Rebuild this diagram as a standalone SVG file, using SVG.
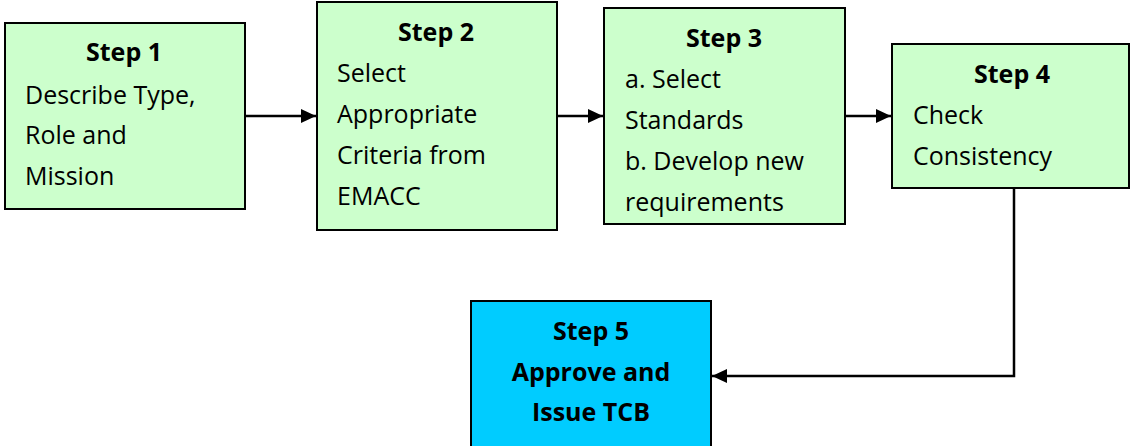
<svg xmlns="http://www.w3.org/2000/svg" width="1133" height="446" viewBox="0 0 1133 446">
<defs>
<style>
.g{fill:#CCFFCC;stroke:#000;stroke-width:2}
.b{fill:#00CCFF;stroke:#000;stroke-width:2}
text{font-family:"Open Sans","Noto Sans",sans-serif;font-size:25px;fill:#000}
.h{font-weight:bold;text-anchor:middle}
.c{stroke:#000;stroke-width:2.5;fill:none}
</style>
<marker id="ar" viewBox="0 0 15 14" refX="15" refY="7" markerWidth="15" markerHeight="14" markerUnits="userSpaceOnUse" orient="auto">
<path d="M0,0 L15,7 L0,14 z" fill="#000"/>
</marker>
</defs>
<g id="connectors">
<path class="c" d="M245,116 H316" marker-end="url(#ar)"/>
<path class="c" d="M557,116 H603" marker-end="url(#ar)"/>
<path class="c" d="M845,116 H891" marker-end="url(#ar)"/>
<path class="c" d="M1014,188 V376 H712" marker-end="url(#ar)"/>
</g>
<g id="step1">
<rect class="g" x="5" y="23" width="240" height="186"/>
<text class="h" x="124" y="61">Step 1</text>
<text x="25" y="104">Describe Type,</text>
<text x="25" y="144">Role and</text>
<text x="25" y="185">Mission</text>
</g>
<g id="step2">
<rect class="g" x="317" y="2" width="240" height="228"/>
<text class="h" x="436" y="41">Step 2</text>
<text x="337" y="82">Select</text>
<text x="337" y="123">Appropriate</text>
<text x="337" y="164">Criteria from</text>
<text x="337" y="205">EMACC</text>
</g>
<g id="step3">
<rect class="g" x="604" y="8" width="241" height="216"/>
<text class="h" x="724" y="47">Step 3</text>
<text x="625" y="88">a. Select</text>
<text x="625" y="129">Standards</text>
<text x="625" y="170">b. Develop new</text>
<text x="625" y="211">requirements</text>
</g>
<g id="step4">
<rect class="g" x="892" y="44" width="237" height="144"/>
<text class="h" x="1012" y="83">Step 4</text>
<text x="913" y="124">Check</text>
<text x="913" y="165">Consistency</text>
</g>
<g id="step5">
<rect class="b" x="471" y="301" width="240" height="150"/>
<text class="h" x="591" y="340">Step 5</text>
<text class="h" x="591" y="381">Approve and</text>
<text class="h" x="591" y="421">Issue TCB</text>
</g>
</svg>
